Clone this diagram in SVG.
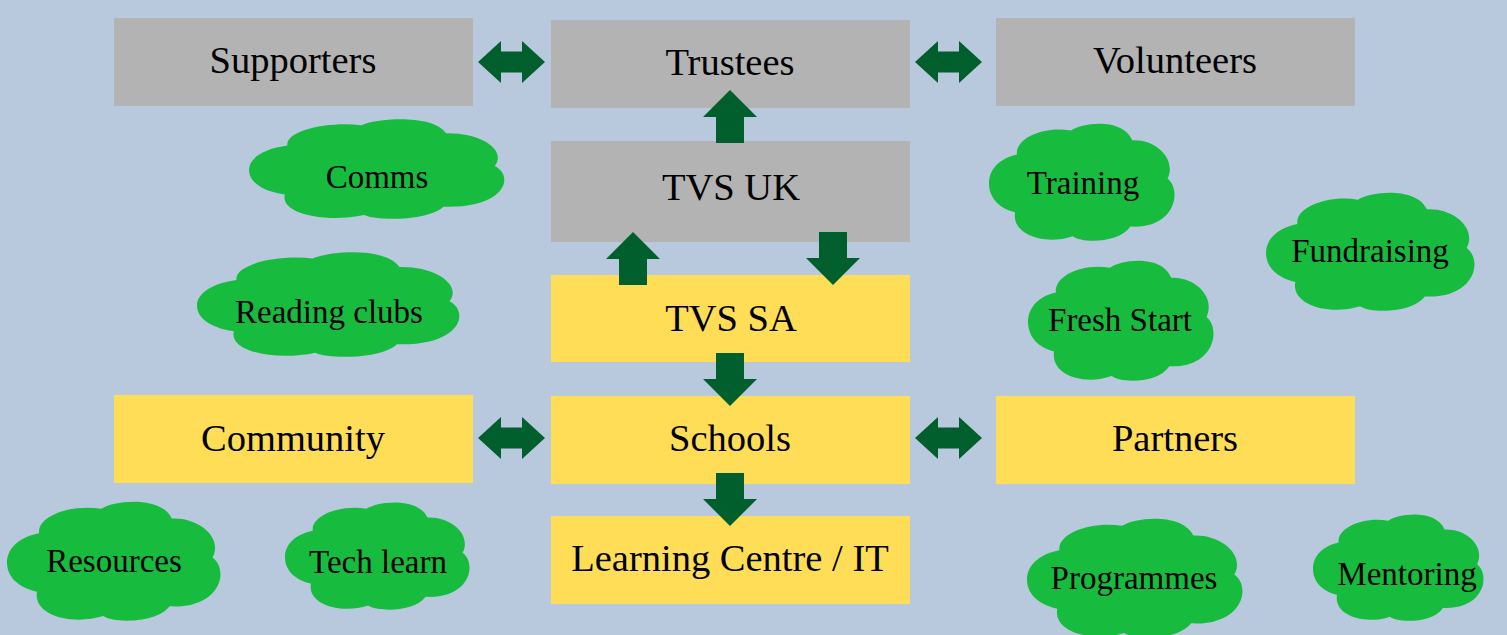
<svg xmlns="http://www.w3.org/2000/svg" xmlns:xlink="http://www.w3.org/1999/xlink" width="1507" height="635" viewBox="0 0 1507 635">
  <style>
    .box-grey { fill: #b3b3b3; }
    .box-yellow { fill: #ffdd57; }
    .cloud { fill: #17bc3f; }
    .arrow { fill: #005f2d; }
    .lbl { font-family: "Liberation Serif", "DejaVu Serif", serif; font-size: 38.5px; fill: #000; text-anchor: middle; }
    .clbl { font-family: "Liberation Serif", "DejaVu Serif", serif; font-size: 33px; fill: #000; text-anchor: middle; }
  </style>
  <defs>
    <!-- cloud outline in a 100x100 box -->
    <path id="cloud" d="M14,76 C4,72 0,62 0,52 C0,40 6,31 15,28 C14,14 30,4 44,8 C50,1 72,-3 77,16 C90,15 101,32 96,48 C104,58 100,90 76,88 C70,102 50,102 45,96 C30,104 12,95 14,76 Z"/>
    <!-- two-headed horizontal arrow, left tip at origin -->
    <path id="dbl" d="M0,0 L23,-21 L23,-10.5 L44,-10.5 L44,-21 L67,0 L44,21 L44,10.5 L23,10.5 L23,21 Z"/>
    <!-- block arrow pointing up, tip at origin -->
    <path id="up" d="M0,0 L27,27 L14,27 L14,53 L-14,53 L-14,27 L-27,27 Z"/>
  </defs>

  <rect width="1507" height="635" fill="#b8c9de"/>

  <!-- boxes -->
  <g id="supporters"><rect class="box-grey" x="114" y="18" width="359" height="88"/><text class="lbl" x="293" y="73">Supporters</text></g>
  <g id="trustees"><rect class="box-grey" x="551" y="20" width="359" height="88"/><text class="lbl" x="730" y="75">Trustees</text></g>
  <g id="volunteers"><rect class="box-grey" x="996" y="18" width="359" height="88"/><text class="lbl" x="1175" y="73">Volunteers</text></g>
  <g id="tvs-uk"><rect class="box-grey" x="551" y="141" width="359" height="101"/><text class="lbl" x="731" y="200">TVS UK</text></g>
  <g id="tvs-sa"><rect class="box-yellow" x="551" y="275" width="359" height="87"/><text class="lbl" x="731" y="331">TVS SA</text></g>
  <g id="community"><rect class="box-yellow" x="114" y="395" width="359" height="88"/><text class="lbl" x="293" y="451">Community</text></g>
  <g id="schools"><rect class="box-yellow" x="551" y="396" width="359" height="88"/><text class="lbl" x="730" y="451">Schools</text></g>
  <g id="partners"><rect class="box-yellow" x="996" y="396" width="359" height="88"/><text class="lbl" x="1175" y="451">Partners</text></g>
  <g id="learning-centre"><rect class="box-yellow" x="551" y="516" width="359" height="88"/><text class="lbl" x="730" y="571">Learning Centre / IT</text></g>

  <!-- clouds -->
  <g id="comms"><use href="#cloud" class="cloud" transform="translate(249,117) scale(2.56,1.02)"/><text class="clbl" x="377" y="188">Comms</text></g>
  <g id="training"><use href="#cloud" class="cloud" transform="translate(989,121) scale(1.86,1.2)"/><text class="clbl" x="1083" y="194">Training</text></g>
  <g id="fundraising"><use href="#cloud" class="cloud" transform="translate(1266,190) scale(2.09,1.21)"/><text class="clbl" x="1370" y="262">Fundraising</text></g>
  <g id="reading-clubs"><use href="#cloud" class="cloud" transform="translate(197,250) scale(2.63,1.07)"/><text class="clbl" x="329" y="323">Reading clubs</text></g>
  <g id="fresh-start"><use href="#cloud" class="cloud" transform="translate(1028,258) scale(1.86,1.23)"/><text class="clbl" x="1120" y="331">Fresh Start</text></g>
  <g id="resources"><use href="#cloud" class="cloud" transform="translate(7,499) scale(2.14,1.22)"/><text class="clbl" x="114" y="572">Resources</text></g>
  <g id="tech-learn"><use href="#cloud" class="cloud" transform="translate(285,500) scale(1.85,1.1)"/><text class="clbl" x="378" y="573">Tech learn</text></g>
  <g id="programmes"><use href="#cloud" class="cloud" transform="translate(1027,516) scale(2.16,1.22)"/><text class="clbl" x="1134" y="589">Programmes</text></g>
  <g id="mentoring"><use href="#cloud" class="cloud" transform="translate(1313,512) scale(1.71,1.09)"/><text class="clbl" x="1407" y="585">Mentoring</text></g>

  <!-- connectors -->
  <g id="connectors">
    <use href="#dbl" class="arrow" transform="translate(478,62)"/>
    <use href="#dbl" class="arrow" transform="translate(915,62)"/>
    <use href="#dbl" class="arrow" transform="translate(478,438)"/>
    <use href="#dbl" class="arrow" transform="translate(915,438)"/>
    <use href="#up" class="arrow" transform="translate(730,90)"/>
    <use href="#up" class="arrow" transform="translate(633,232)"/>
    <use href="#up" class="arrow" transform="translate(833,285) rotate(180)"/>
    <use href="#up" class="arrow" transform="translate(730,406) rotate(180)"/>
    <use href="#up" class="arrow" transform="translate(730,526) rotate(180)"/>
  </g>
</svg>
